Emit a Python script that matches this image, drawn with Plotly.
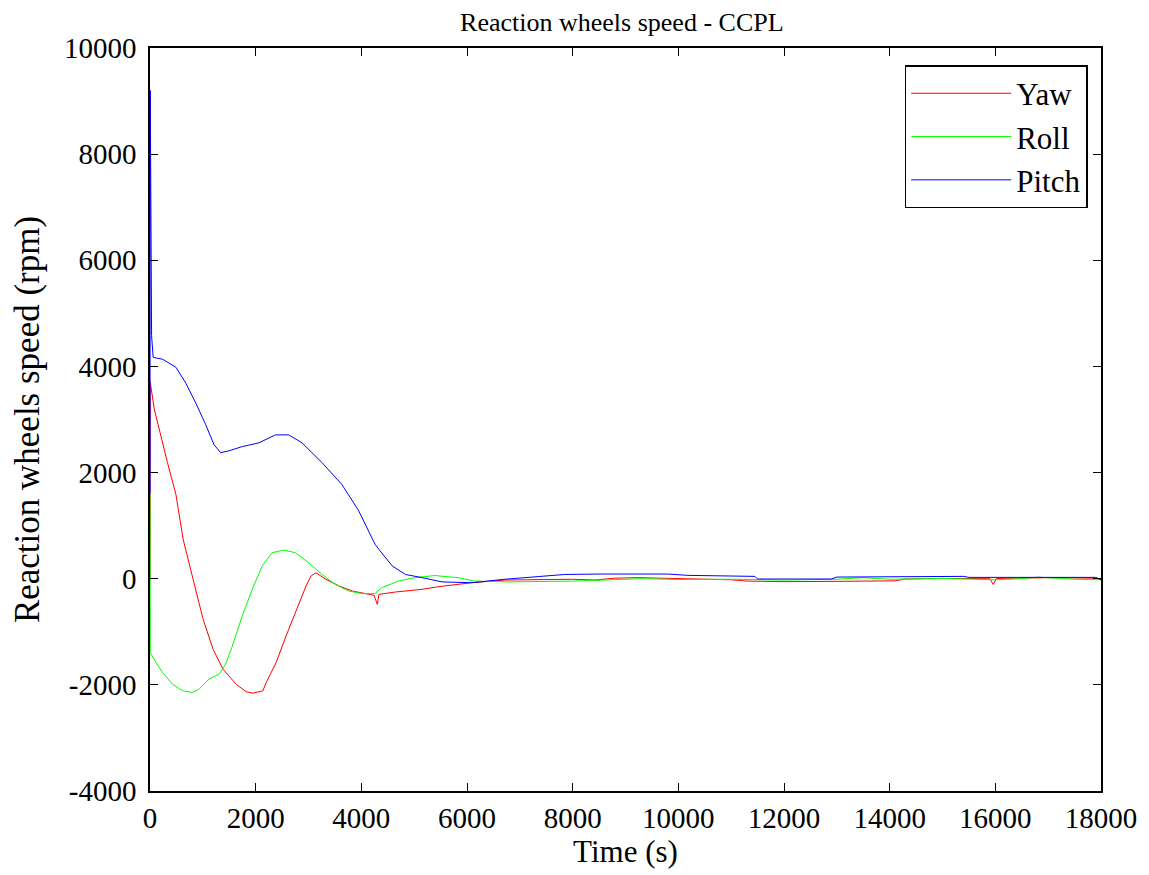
import plotly.graph_objects as go

# casove osi a hodnoty odcitane z obrazka (s, rpm)
yaw_t = [0, 5, 80, 180, 330, 490, 628, 816, 1005, 1194, 1382, 1633, 1822, 1948, 2136,
         2199, 2387, 2576, 2764, 2953, 3047, 3141, 3330, 3581, 3832, 4083, 4240, 4303,
         4334, 4648, 5150, 5464, 6092, 6720, 7400, 8000, 8420, 8800, 9230, 10000, 10500,
         11000, 11300, 12000, 13000, 14100, 14300, 15000, 15900, 15960, 16020, 17000,
         17900, 18000]
yaw_v = [0, 3700, 3200, 2790, 2190, 1590, 740, -12, -765, -1330, -1705, -1990, -2130,
         -2157, -2113, -1956, -1580, -1078, -608, -138, 50, 113, -12, -138, -232, -276,
         -313, -483, -295, -250, -200, -150, -75, -25, -15, -10, -25, 10, 20, 0, -5,
         -20, -45, -55, -50, -40, -5, 5, 0, -110, 5, 20, 10, -15]

roll_t = [0, 5, 113, 239, 427, 616, 805, 930, 1118, 1307, 1433, 1558, 1746, 1935, 2123,
          2312, 2532, 2752, 3004, 3255, 3506, 3757, 4008, 4259, 4385, 4700, 5013, 5390,
          5600, 5830, 6144, 6772, 8028, 9284, 10000, 11000, 12000, 13000, 13500, 14000,
          15000, 16000, 16500, 16800, 17500, 18000]
roll_v = [1600, -1390, -1580, -1770, -1990, -2110, -2145, -2080, -1890, -1800, -1610,
          -1270, -700, -200, 240, 490, 540, 490, 300, 80, -107, -230, -280, -280, -170,
          -45, 20, 60, 40, 20, -45, -60, -45, 0, -15, -10, -25, -10, 20, -10, 5, -20, 0,
          30, -10, -20]

pitch_t = [0, 5, 30, 60, 240, 490, 678, 867, 1055, 1212, 1338, 1495, 1746, 2060, 2375,
           2626, 2877, 3254, 3631, 3945, 4259, 4334, 4585, 4836, 5150, 5527, 6092, 6343,
           6720, 7348, 7850, 8481, 9800, 10180, 11000, 11450, 11500, 12900, 13000, 14700,
           14800, 15400, 15500, 17900, 18000]
pitch_v = [1600, 9200, 4580, 4170, 4135, 3985, 3685, 3310, 2900, 2525, 2375, 2410, 2490,
           2560, 2710, 2710, 2560, 2190, 1775, 1290, 650, 550, 240, 80, 20, -60, -75,
           -45, -10, 40, 80, 88, 88, 63, 44, 44, -6, -6, 31, 31, 44, 44, 25, 25, -19]

xticks = list(range(0, 18001, 2000))
xtext = [str(v) for v in xticks]   # cele cisla, ziadne "10k"
yticks = list(range(-4000, 10001, 2000))
ytext = [str(v) for v in yticks]   # obycajny spojovnik namiesto unicode minus

font = 'Liberation Serif'

fig = go.Figure()
fig.add_trace(go.Scatter(x=yaw_t, y=yaw_v, mode='lines', name='Yaw',
                         line=dict(color='#ff0000', width=1)))
fig.add_trace(go.Scatter(x=roll_t, y=roll_v, mode='lines', name='Roll',
                         line=dict(color='#00ff00', width=1)))
fig.add_trace(go.Scatter(x=pitch_t, y=pitch_v, mode='lines', name='Pitch',
                         line=dict(color='#0000ff', width=1)))

axis = dict(showgrid=False, zeroline=False, showline=True, linecolor='black', linewidth=1.5,
            mirror='ticks', ticks='inside', ticklen=8, tickcolor='black',
            tickfont=dict(family=font, size=29, color='black'))

# stranka ma 8px okraj body, preto je figura o 8 px mensia
fig.update_layout(
    width=1141, height=867,
    paper_bgcolor='white', plot_bgcolor='white',
    margin=dict(l=142, r=44, t=40, b=84),
    title=dict(text='Reaction wheels speed - CCPL', x=0.538, xanchor='center', y=0.994,
               yanchor='top', font=dict(family=font, size=26, color='black')),
    xaxis=dict(axis, range=[0, 18000], tickvals=xticks, ticktext=xtext,
               title=dict(text='Time (s)', font=dict(family=font, size=31, color='black'),
                          standoff=6)),
    yaxis=dict(axis, range=[-4000, 10000], tickvals=yticks, ticktext=ytext,
               ticklabelstandoff=6,
               title=dict(text='Reaction wheels speed (rpm)',
                          font=dict(family=font, size=35, color='black'), standoff=17)),
    legend=dict(x=0.986, xanchor='right', y=0.977, yanchor='top', bgcolor='white',
                bordercolor='black', borderwidth=1.5, itemwidth=100,
                font=dict(family=font, size=31, color='black')),
    showlegend=True,
)

fig.write_html("out.html")
